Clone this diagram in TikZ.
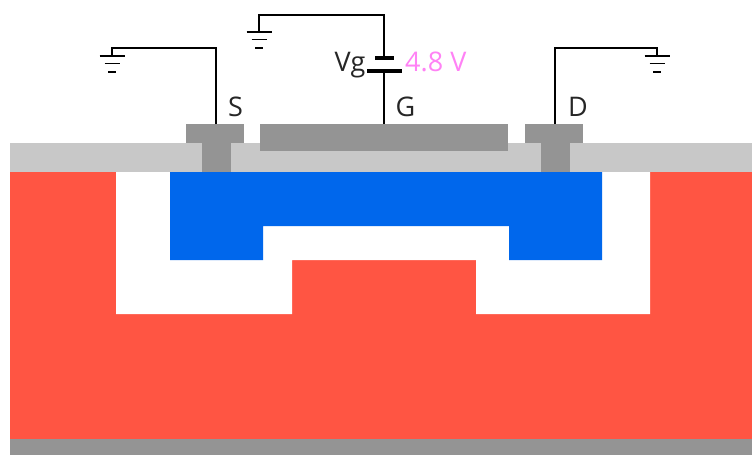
\documentclass[tikz,border=0pt]{standalone}
\usepackage{fontspec}
\setmainfont{Open Sans}
\definecolor{redsub}{RGB}{255,85,67}
\definecolor{bluech}{RGB}{0,103,236}
\definecolor{oxide}{RGB}{200,200,200}
\definecolor{metal}{RGB}{148,148,148}
\definecolor{volt}{RGB}{255,130,245}
\tikzset{
  wire/.style={draw=black,line width=1.5pt,line join=miter},
  plate/.style={draw=black,line width=3.6pt},
  gnd/.style={draw=black,line width=1.7pt},
  lbl/.style={font=\fontsize{27}{30}\selectfont,text=black!85,inner sep=0pt,anchor=base}
}
\begin{document}
\begin{tikzpicture}[x=1pt,y=-1pt]
\useasboundingbox (0,0) rectangle (752,455);
% layers
\fill[oxide] (10,143) rectangle (752,172);
\fill[redsub] (10,172) rectangle (752,439);
\fill[metal] (10,439) rectangle (752,455);
\fill[white] (116,172) -- (650,172) -- (650,314) -- (476,314) -- (476,260) -- (292,260) -- (292,314) -- (116,314) -- cycle;
\fill[bluech] (170,172) -- (602,172) -- (602,260) -- (509,260) -- (509,226) -- (263,226) -- (263,260) -- (170,260) -- cycle;
% contacts
\fill[metal] (186,124) rectangle (244,143);
\fill[metal] (202,143) rectangle (231,172);
\fill[metal] (260,124) rectangle (508,151);
\fill[metal] (525,124) rectangle (583,143);
\fill[metal] (541,143) rectangle (570,172);
% terminals
\coordinate (sT) at (216,124);
\coordinate (gT) at (384,124);
\coordinate (dT) at (555,124);
\coordinate (gndS) at (112,56);
\coordinate (gndG) at (259,32);
\coordinate (gndD) at (657,56);
\coordinate (plU) at (384,58);
\coordinate (plL) at (384,71);
\coordinate (sC) at (216,48);
\coordinate (gC) at (384,15);
\coordinate (dC) at (555,48);
% wires
\draw[wire] (sT) -- (sC) -| (gndS);
\draw[wire] (plU) -- (gC) -| (gndG);
\draw[wire] (dT) -- (dC) -| (gndD);
\draw[wire] (gT) -- (plL);
% labels
\node[lbl] (lS) at (235.5,116.5) {S};
\node[lbl] (lG) at (405.5,116.5) {G};
\node[lbl] (lD) at (578,116.5) {D};
\node[lbl] (lV) at (350,71) {Vg};
\node[lbl,text=volt,anchor=base west] (lU) at (405,71) {4.8 V};
% battery
\draw[plate] (375,58) -- (394,58);
\draw[plate] (367,71) -- (402,71);
% grounds
\foreach \g in {gndS,gndG,gndD}{
  \draw[gnd] ([xshift=-12.5pt]\g) -- ([xshift=12.5pt]\g);
  \draw[gnd] ([xshift=-7.5pt,yshift=-7.5pt]\g) -- ([xshift=7.5pt,yshift=-7.5pt]\g);
  \draw[gnd] ([xshift=-4pt,yshift=-16pt]\g) -- ([xshift=4pt,yshift=-16pt]\g);
}
\end{tikzpicture}
\end{document}
